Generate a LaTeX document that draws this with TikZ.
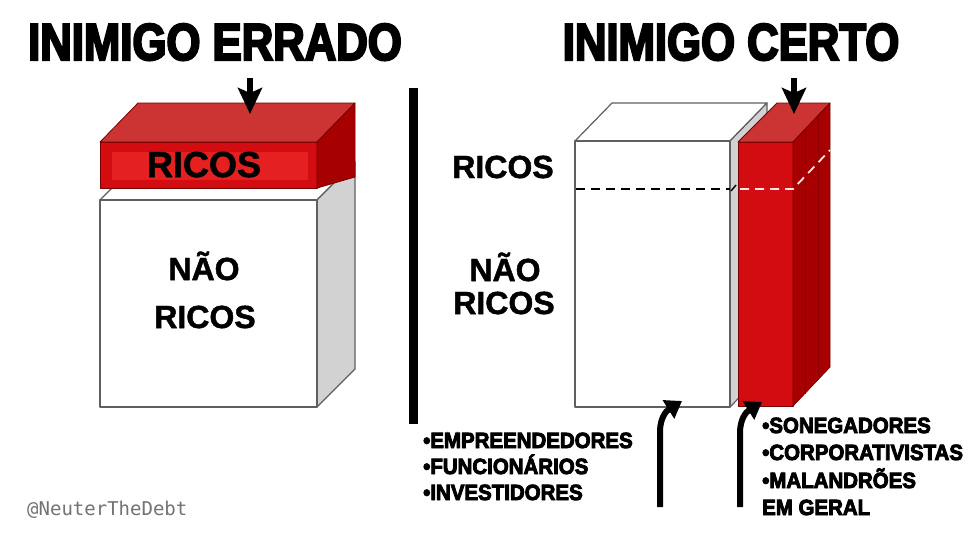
\documentclass[tikz,border=0pt]{standalone}
\usepackage{fontspec}
\setmainfont{Liberation Sans}
\newfontfamily\titlefont[FakeStretch=0.84,FakeBold=4]{Liberation Sans Bold}
\newfontfamily\labelfont[FakeBold=1.5]{Liberation Sans Bold}
\newfontfamily\listfont[FakeStretch=0.93,FakeBold=4]{Liberation Sans Bold}
\newfontfamily\tagfont{DejaVu Sans Mono}
\usetikzlibrary{arrows.meta, positioning}

\definecolor{slabfront}{RGB}{210,12,16}
\definecolor{slabinner}{RGB}{228,32,32}
\definecolor{slabtop}{RGB}{204,52,52}
\definecolor{slabside}{RGB}{166,0,0}
\definecolor{boxside}{RGB}{210,210,210}
\definecolor{edgegray}{RGB}{95,95,95}
\definecolor{edgered}{RGB}{120,0,0}

\begin{document}
\begin{tikzpicture}[
    x=1pt, y=-1pt,
    whiteface/.style={fill=white, draw=edgegray, line width=1.2pt, line join=round},
    grayface/.style={fill=boxside, draw=edgegray, line width=1.2pt, line join=round},
    redface/.style={draw=edgered, line width=0.8pt, line join=round},
    titletext/.style={font=\titlefont\fontsize{52}{52}\selectfont, anchor=base},
    bigtext/.style={font=\labelfont\fontsize{32}{32}\selectfont, anchor=base},
    listtext/.style={font=\listfont\fontsize{22}{22}\selectfont, anchor=base west, inner sep=0pt},
    pointer/.style={line width=6pt, -{Stealth[width=24pt, length=26pt, inset=5pt]}},
    hook/.style={line width=6pt, -{Triangle[width=21pt, length=16pt]}},
]

\fill[white] (0,0) rectangle (974,542);
\useasboundingbox (0,0) rectangle (974,542);

% === Titles ===
\node[titletext] (wrongtitle) at (215,60) {INIMIGO ERRADO};
\node[titletext] (righttitle) at (731,60) {INIMIGO CERTO};

% === Left: white block (nao ricos) ===
\draw[whiteface] (100,200) -- (138,162) -- (355,162) -- (317,200) -- cycle;
\draw[grayface] (317,200) -- (355,162) -- (355,369) -- (317,407) -- cycle;
\draw[whiteface] (100,200) rectangle (317,407);

% === Left: red slab (ricos) ===
\fill[slabfront] (100,142) rectangle (317,188);
\fill[slabinner] (112,152) rectangle (308,180);
\draw[redface] (100,142) rectangle (317,188);
\draw[redface, fill=slabtop] (100,142) -- (138,103) -- (355,103) -- (317,142) -- cycle;
\draw[redface, fill=slabside] (317,142) -- (355,103) -- (355,177) -- (317,188) -- cycle;

\node[bigtext, font=\labelfont\fontsize{36}{36}\selectfont] (leftricos) at (204,177) {RICOS};
\node[bigtext] (leftnao) at (204,280) {NÃO};
\node[bigtext] (leftnaoricos) at (205,328) {RICOS};

\coordinate (leftdrop) at (250,78);
\coordinate (slabhit) at (250,114);
\draw[pointer] (leftdrop) -- (slabhit);

% === Divider ===
\fill[black] (409,88) rectangle (418,424);

% === Right: tall white block ===
\draw[whiteface] (575,141) -- (612,103) -- (767,103) -- (730,141) -- cycle;
\draw[grayface] (730,141) -- (767,103) -- (767,369) -- (730,407) -- cycle;
\draw[whiteface] (575,141) rectangle (730,407);

% === Right: red pillar ===
\draw[redface, fill=slabfront] (738,142) rectangle (793,406);
\draw[redface, fill=slabtop] (738,142) -- (777,103) -- (830,103) -- (793,142) -- cycle;
\draw[redface, fill=slabside] (793,142) -- (830,103) -- (830,367) -- (793,406) -- cycle;
\draw[red!55!black, line width=0.6pt] (805,130) -- (805,394);
\draw[red!55!black, line width=0.6pt] (818,116) -- (818,380);

% dashed split line
\draw[black, line width=1.6pt, dash pattern=on 9pt off 6pt] (576,189) -- (730,189);
\draw[black, line width=1.4pt] (731,191) -- (736,185);
\draw[white!90!red, line width=1.8pt, dash pattern=on 9pt off 6pt] (740,189) -- (793,189) -- (830,150);

\node[bigtext] (rightricos) at (503,178) {RICOS};
\node[bigtext] (rightnao) at (505,281) {NÃO};
\node[bigtext] (rightnaoricos) at (504,314) {RICOS};

\coordinate (rightdrop) at (794,78);
\coordinate (pillarhit) at (794,114);
\draw[pointer] (rightdrop) -- (pillarhit);

% === Bottom hooks ===
\coordinate (goodfoot) at (660,507);
\coordinate (goodhit) at (682,401);
\draw[hook] (goodfoot) -- (660,432) .. controls (660,418) and (666,411) .. (goodhit);

\coordinate (badfoot) at (740,507);
\coordinate (badhit) at (762,402);
\draw[hook] (badfoot) -- (740,433) .. controls (740,419) and (746,412) .. (badhit);

% === Lists ===
\node[listtext] (emp) at (423,448) {•EMPREENDEDORES};
\node[listtext] (func) at (423,474) {•FUNCIONÁRIOS};
\node[listtext] (inv) at (423,500) {•INVESTIDORES};

\node[listtext] (soneg) at (762,433) {•SONEGADORES};
\node[listtext] (corp) at (762,460) {•CORPORATIVISTAS};
\node[listtext] (malan) at (762,488) {•MALANDRÕES};
\node[listtext] (geral) at (762,515) {EM GERAL};

% === Signature ===
\node[font=\tagfont\fontsize{19}{19}\selectfont, text=black!55, anchor=west, inner sep=0pt] (signature) at (27,510) {@NeuterTheDebt};

\end{tikzpicture}
\end{document}
